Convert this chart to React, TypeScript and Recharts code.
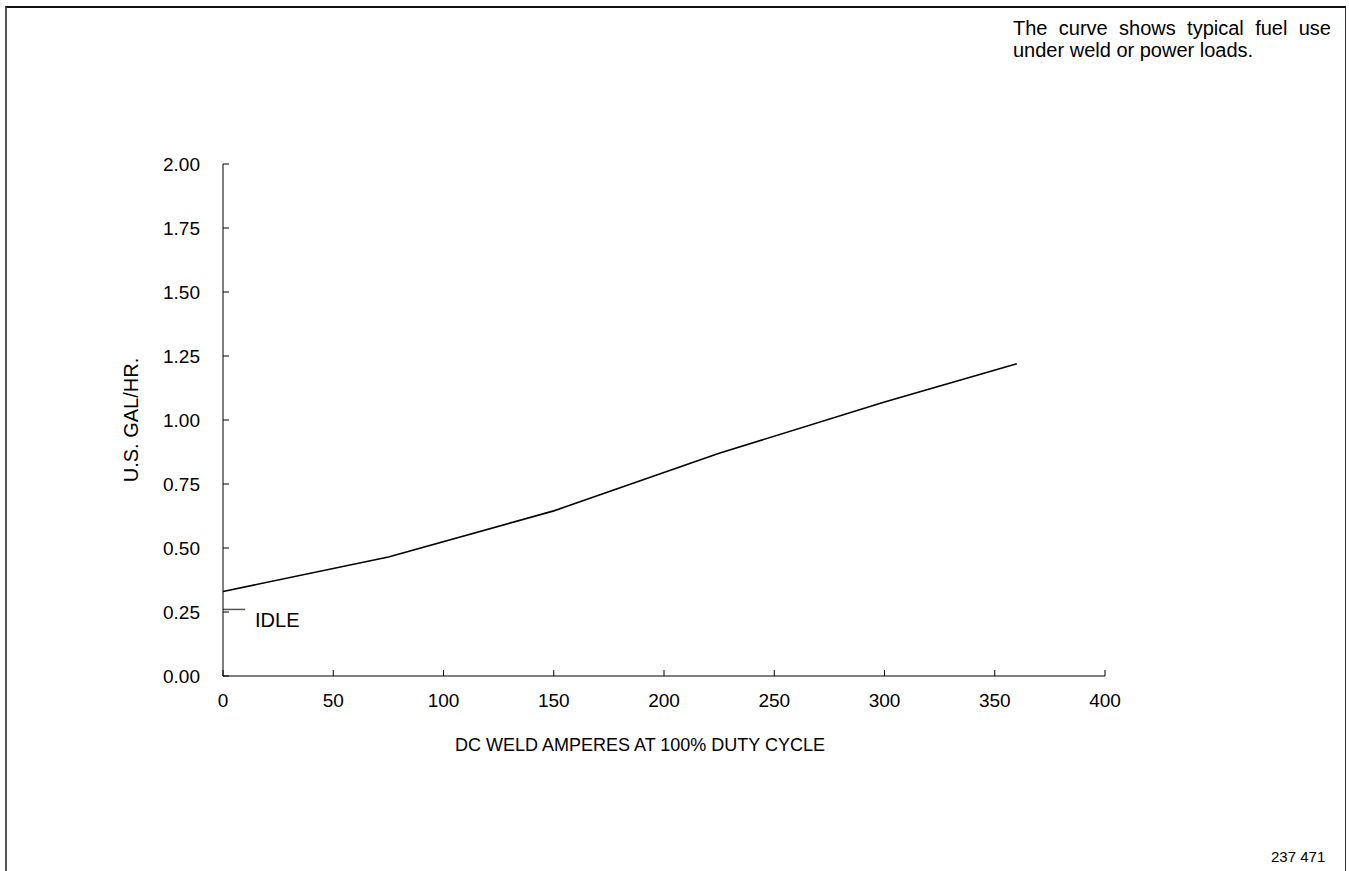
import { LineChart, Line, XAxis, YAxis, Label, LabelList } from 'recharts';

const amps = [0, 75, 150, 225, 300, 360];
const gallonsPerHour = [0.33, 0.465, 0.645, 0.87, 1.07, 1.22];
const idleAmps = [0, 10];
const idleGallons = [0.26, 0.26];
const xTicks = [0, 50, 100, 150, 200, 250, 300, 350, 400];
const yTicks = [0, 0.25, 0.5, 0.75, 1, 1.25, 1.5, 1.75, 2];

const fuelData = amps.map((a, i) => ({ amps: a, gal: gallonsPerHour[i] }));
const idleData = idleAmps.map((a, i) => ({ amps: a, idle: idleGallons[i] }));

const FONT = '"Liberation Sans", Arial, Helvetica, sans-serif';

export default function App() {
  return (
    <div style={{ position: 'absolute', left: 0, top: 0, width: 1349, height: 871, overflow: 'hidden', fontFamily: FONT, background: '#fff' }}>
      {/* frame */}
      <div
        style={{
          position: 'absolute',
          left: 5,
          top: 6,
          width: 1338,
          height: 900,
          borderTop: '2px solid #111',
          borderLeft: '2px solid #555',
          borderRight: '1px solid #333',
        }}
      />
      <div
        style={{
          position: 'absolute',
          left: 1013,
          top: 17,
          width: 318,
          fontSize: 20,
          lineHeight: '22px',
          textAlign: 'justify',
          textAlignLast: 'left',
          color: '#000',
        }}
      >
        The curve shows typical fuel use under weld or power loads.
      </div>
      <div style={{ position: 'absolute', left: 1271, top: 848, fontSize: 15, lineHeight: '18px', color: '#000' }}>
        237 471
      </div>
      <div style={{ position: 'absolute', left: 0, top: 0 }}>
        <LineChart width={1349} height={871} margin={{ top: 164, right: 244, left: 123, bottom: 95 }}>
          <XAxis
            type="number"
            dataKey="amps"
            domain={[0, 400]}
            ticks={xTicks}
            height={100}
            stroke="#000"
            tickSize={-6}
            tickMargin={24}
            tick={{ fill: '#000', fontSize: 19, fontFamily: FONT }}
            allowDuplicatedCategory={false}
          >
            <Label
              content={({ viewBox }: any) => (
                <text
                  x={viewBox.x + viewBox.width / 2 - 24}
                  y={745}
                  textAnchor="middle"
                  dominantBaseline="central"
                  fontSize={18}
                  fontFamily={FONT}
                  fill="#000"
                >
                  DC WELD AMPERES AT 100% DUTY CYCLE
                </text>
              )}
            />
          </XAxis>
          <YAxis
            type="number"
            domain={[0, 2]}
            ticks={yTicks}
            width={100}
            stroke="#000"
            tickSize={-6}
            tickMargin={29}
            tickFormatter={(v: number) => v.toFixed(2)}
            tick={{ fill: '#000', fontSize: 19, fontFamily: FONT }}
          >
            <Label
              content={({ viewBox }: any) => {
                const cx = 131;
                const cy = viewBox.y + viewBox.height / 2;
                return (
                  <text
                    x={cx}
                    y={cy}
                    transform={`rotate(-90 ${cx} ${cy})`}
                    textAnchor="middle"
                    dominantBaseline="central"
                    fontSize={20}
                    fontFamily={FONT}
                    fill="#000"
                  >
                    U.S. GAL/HR.
                  </text>
                );
              }}
            />
          </YAxis>
          <Line
            data={fuelData}
            dataKey="gal"
            type="linear"
            stroke="#000"
            strokeWidth={1.6}
            dot={false}
            activeDot={false}
            isAnimationActive={false}
          />
          <Line
            data={idleData}
            dataKey="idle"
            type="linear"
            stroke="#555"
            strokeWidth={1.5}
            dot={false}
            activeDot={false}
            isAnimationActive={false}
          >
            <LabelList
              dataKey="idle"
              content={(p: any) =>
                p.index === idleData.length - 1 ? (
                  <text
                    x={p.x + 10}
                    y={p.y + 11}
                    dominantBaseline="central"
                    fontSize={20}
                    fontFamily={FONT}
                    fill="#000"
                  >
                    IDLE
                  </text>
                ) : null
              }
            />
          </Line>
        </LineChart>
      </div>
    </div>
  );
}
